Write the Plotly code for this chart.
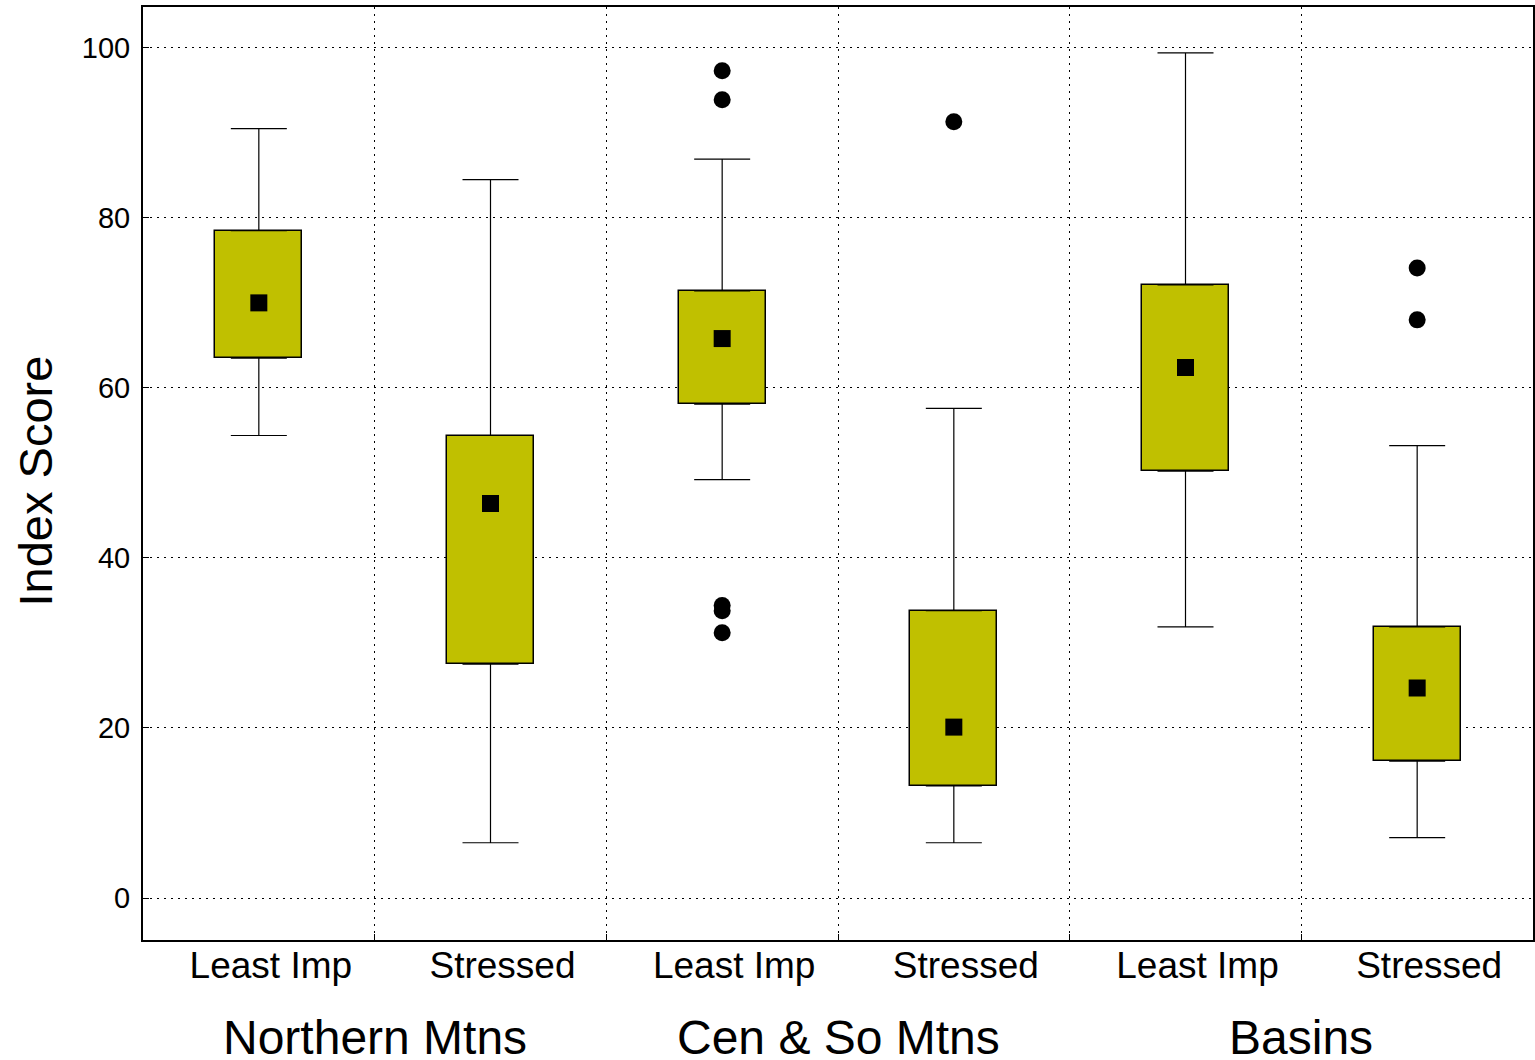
import plotly.graph_objects as go

# ---- data ----
sub_labels = ["Least Imp", "Stressed", "Least Imp", "Stressed", "Least Imp", "Stressed"]
group_labels = ["Northern Mtns", "Cen & So Mtns", "Basins"]
positions = [0, 1, 2, 3, 4, 5]
group_pos = [0.5, 2.5, 4.5]

whisker_low = [54.4, 6.5, 49.2, 6.5, 31.9, 7.1]
q1 = [63.5, 27.5, 58.1, 13.2, 50.2, 16.1]
median = [70.0, 46.4, 65.8, 20.1, 62.4, 24.7]
q3 = [78.5, 54.4, 71.4, 33.8, 72.1, 31.9]
whisker_high = [90.5, 84.5, 86.9, 57.6, 99.4, 53.2]

outlier_x = [2, 2, 2, 2, 2, 3, 5, 5]
outlier_y = [97.3, 93.9, 34.4, 33.8, 31.2, 91.3, 74.1, 68.0]

y_ticks = [0, 20, 40, 60, 80, 100]
y_title = "Index Score"

BOX_COLOR = "#C0C000"
FONT = "Liberation Sans, Arial"

fig = go.Figure()

# boxes
fig.add_trace(go.Bar(
    x=positions,
    base=q1,
    y=[b - a for a, b in zip(q1, q3)],
    width=0.375,
    marker=dict(color=BOX_COLOR, line=dict(color="black", width=1.5)),
    hoverinfo="skip",
    showlegend=False,
))

# upper whiskers
fig.add_trace(go.Scatter(
    x=positions, y=q3, mode="markers",
    marker=dict(size=1, color="rgba(0,0,0,0)"),
    error_y=dict(type="data", symmetric=False,
                 array=[h - t for h, t in zip(whisker_high, q3)],
                 arrayminus=[0] * 6, color="black", thickness=1.2, width=28),
    showlegend=False, hoverinfo="skip",
))
# lower whiskers
fig.add_trace(go.Scatter(
    x=positions, y=q1, mode="markers",
    marker=dict(size=1, color="rgba(0,0,0,0)"),
    error_y=dict(type="data", symmetric=False,
                 array=[0] * 6,
                 arrayminus=[b - l for b, l in zip(q1, whisker_low)],
                 color="black", thickness=1.2, width=28),
    showlegend=False, hoverinfo="skip",
))

# medians
fig.add_trace(go.Scatter(
    x=positions, y=median, mode="markers",
    marker=dict(symbol="square", size=17, color="black"),
    showlegend=False,
))

# outliers
fig.add_trace(go.Scatter(
    x=outlier_x, y=outlier_y, mode="markers",
    marker=dict(symbol="circle", size=17, color="black"),
    showlegend=False,
))

# group labels
for gp, gl in zip(group_pos, group_labels):
    fig.add_annotation(x=gp, xref="x", y=-0.074, yref="paper", yanchor="top",
                       text=gl, showarrow=False,
                       font=dict(size=48, color="black", family=FONT))

# y axis title
fig.add_annotation(x=0, xref="paper", xshift=-108, xanchor="center",
                   y=0.5, yref="paper", yshift=-8, yanchor="middle",
                   text=y_title, textangle=-90, showarrow=False,
                   font=dict(size=47, color="black", family=FONT))

fig.update_layout(
    width=1535, height=1060,
    margin=dict(l=143, r=0, t=7, b=120),
    paper_bgcolor="white", plot_bgcolor="white",
    font=dict(family=FONT, color="black"),
    bargap=0,
)

fig.update_xaxes(
    range=[-0.5, 5.5],
    tickvals=positions, ticktext=sub_labels,
    tickfont=dict(size=37),
    ticks="", ticklabelshift=12, ticklabelstandoff=-8,
    showgrid=False, zeroline=False,
    showline=True, linecolor="black", linewidth=2, mirror=True,
    minor=dict(tickvals=[0.5, 1.5, 2.5, 3.5, 4.5], showgrid=True,
               gridcolor="black", gridwidth=1, griddash="2px,5px",
               ticks="inside", ticklen=6, tickcolor="black"),
)

fig.update_yaxes(
    range=[-4.94, 104.8],
    tickvals=y_ticks,
    tickfont=dict(size=29),
    ticks="inside", ticklen=6, tickcolor="black",
    ticklabelstandoff=5,
    showgrid=True, gridcolor="black", gridwidth=1, griddash="2px,5px",
    zeroline=False,
    showline=True, linecolor="black", linewidth=2, mirror=True,
)

fig.write_html(
    "out.html",
    config={"displayModeBar": False},
    post_script="document.body.style.margin='0';document.body.style.overflow='hidden';",
)
